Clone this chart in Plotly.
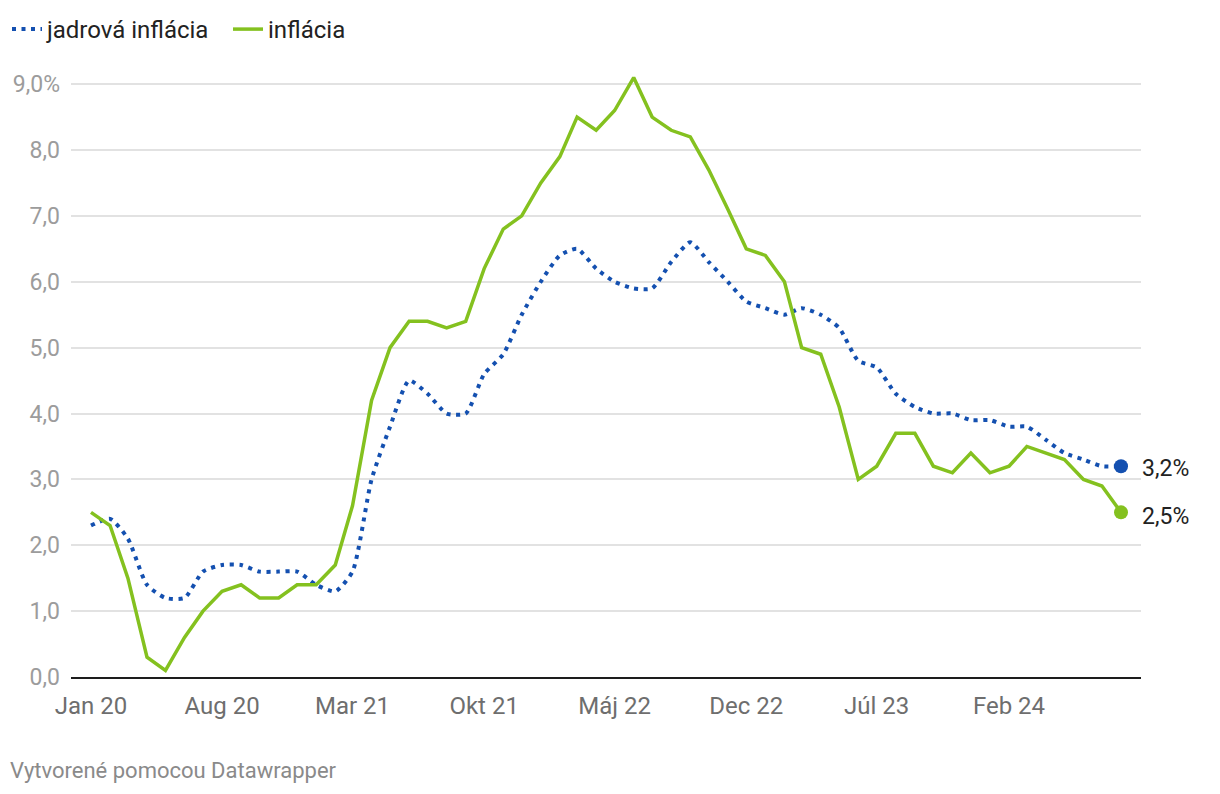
import plotly.graph_objects as go
import pandas as pd

months = pd.date_range("2020-01-01", "2024-08-01", freq="MS")

inflacia = [2.5, 2.3, 1.5, 0.3, 0.1, 0.6, 1.0, 1.3, 1.4, 1.2, 1.2, 1.4,
            1.4, 1.7, 2.6, 4.2, 5.0, 5.4, 5.4, 5.3, 5.4, 6.2, 6.8, 7.0,
            7.5, 7.9, 8.5, 8.3, 8.6, 9.1, 8.5, 8.3, 8.2, 7.7, 7.1, 6.5,
            6.4, 6.0, 5.0, 4.9, 4.1, 3.0, 3.2, 3.7, 3.7, 3.2, 3.1, 3.4,
            3.1, 3.2, 3.5, 3.4, 3.3, 3.0, 2.9, 2.5]

jadrova = [2.3, 2.4, 2.1, 1.4, 1.2, 1.2, 1.6, 1.7, 1.7, 1.6, 1.6, 1.6,
           1.4, 1.3, 1.6, 3.0, 3.8, 4.5, 4.3, 4.0, 4.0, 4.6, 4.9, 5.5,
           6.0, 6.4, 6.5, 6.2, 6.0, 5.9, 5.9, 6.3, 6.6, 6.3, 6.0, 5.7,
           5.6, 5.5, 5.6, 5.5, 5.3, 4.8, 4.7, 4.3, 4.1, 4.0, 4.0, 3.9,
           3.9, 3.8, 3.8, 3.6, 3.4, 3.3, 3.2, 3.2]

x_tick_dates = ["2020-01-01", "2020-08-01", "2021-03-01", "2021-10-01",
                "2022-05-01", "2022-12-01", "2023-07-01", "2024-02-01"]
x_tick_labels = ["Jan 20", "Aug 20", "Mar 21", "Okt 21", "Máj 22", "Dec 22", "Júl 23", "Feb 24"]

y_tick_vals = [0, 1, 2, 3, 4, 5, 6, 7, 8, 9]
y_tick_labels = ["0,0", "1,0", "2,0", "3,0", "4,0", "5,0", "6,0", "7,0", "8,0", "9,0%"]

BLUE = "#1450b0"
GREEN = "#84c11f"
FONT = "Roboto"

L, R, T, B = 71, 79, 71, 117
PW = 1220 - L - R
PH = 794 - T - B


def fmt(v):
    return f"{v:.1f}%".replace(".", ",")


fig = go.Figure()

fig.add_trace(go.Scatter(
    x=months, y=jadrova, mode="lines", name="jadrová inflácia",
    line=dict(color=BLUE, width=4, dash="4px,5.5px", shape="spline", smoothing=0.6),
    hoverinfo="skip",
))
fig.add_trace(go.Scatter(
    x=months, y=inflacia, mode="lines", name="inflácia",
    line=dict(color=GREEN, width=3.5),
    hoverinfo="skip",
))

fig.add_trace(go.Scatter(
    x=[months[-1]], y=[jadrova[-1]], mode="markers",
    marker=dict(color=BLUE, size=14),
    showlegend=False, hoverinfo="skip", cliponaxis=False,
))
fig.add_trace(go.Scatter(
    x=[months[-1]], y=[inflacia[-1]], mode="markers",
    marker=dict(color=GREEN, size=14),
    showlegend=False, hoverinfo="skip", cliponaxis=False,
))

annotations = [
    dict(text=fmt(jadrova[-1]), x=months[-1], y=jadrova[-1], xref="x", yref="y",
         xanchor="left", yanchor="middle", xshift=19, yshift=-2, showarrow=False,
         font=dict(family=FONT, size=23, color="#222222")),
    dict(text=fmt(inflacia[-1]), x=months[-1], y=inflacia[-1], xref="x", yref="y",
         xanchor="left", yanchor="middle", xshift=19, yshift=-4, showarrow=False,
         font=dict(family=FONT, size=23, color="#222222")),
    dict(text="Vytvorené pomocou Datawrapper", xref="paper", yref="paper",
         x=(8 - L) / PW, y=(794 - B - 770) / PH, xanchor="left", yanchor="middle",
         showarrow=False,
         font=dict(family=FONT, size=22, color="#8a8a8a")),
]

fig.update_layout(
    width=1220, height=794,
    margin=dict(l=L, r=R, t=T, b=B),
    paper_bgcolor="white", plot_bgcolor="white",
    font=dict(family=FONT, size=24, color="#222222"),
    showlegend=True,
    legend=dict(
        orientation="h", xref="container", yref="container",
        x=7 / 1220, y=1 - 7 / 794, xanchor="left", yanchor="top",
        font=dict(family=FONT, size=24, color="#222222"),
        itemwidth=30, tracegroupgap=0, bgcolor="rgba(0,0,0,0)",
        entrywidth=176, entrywidthmode="pixels",
    ),
    xaxis=dict(
        type="date",
        range=["2019-11-29 12:00", "2024-09-02 12:00"],
        tickvals=x_tick_dates, ticktext=x_tick_labels,
        showgrid=False, zeroline=False,
        showline=True, linecolor="#1d1d1d", linewidth=2,
        ticks="", ticklabelstandoff=6,
        tickfont=dict(family=FONT, size=24, color="#6e6e6e"),
        fixedrange=True,
    ),
    yaxis=dict(
        range=[0, 9.2],
        tickvals=y_tick_vals, ticktext=y_tick_labels,
        showgrid=True, gridcolor="#e2e2e2", gridwidth=1.5,
        zeroline=False, showline=False, ticks="",
        ticklabelstandoff=10,
        tickfont=dict(family=FONT, size=23, color="#9c9c9c"),
        fixedrange=True,
    ),
    annotations=annotations,
)

fig.write_html("out.html")
